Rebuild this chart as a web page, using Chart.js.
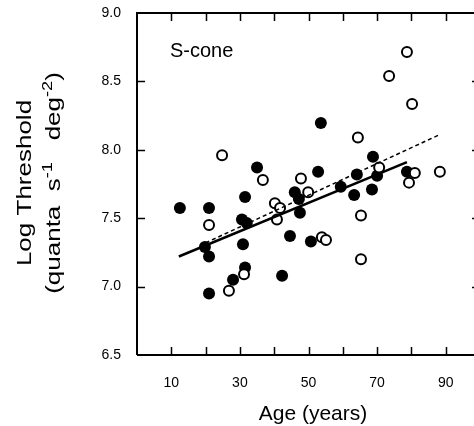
<!DOCTYPE html>
<html>
<head>
<meta charset="utf-8">
<script src="https://cdn.jsdelivr.net/npm/chart.js@4.4.0/dist/chart.umd.min.js"></script>
<style>
html, body { margin: 0; padding: 0; background: #fff; overflow: hidden; }
#wrap { width: 490px; height: 426px; }
</style>
</head>
<body>
<div id="wrap"><canvas id="chart" width="490" height="426"></canvas></div>
<script>
// Datos (edad en años, log umbral)
const filledAge = [12.5, 21, 31.5, 35, 30.6, 32, 19.8, 21, 30.9, 31.5, 28, 21, 44.6, 42.3, 46, 47.2, 47.5, 50.7, 52.8, 53.6, 59.4, 63.3, 64.1, 68.5, 68.8, 70, 78.7];
const filledThreshold = [7.575, 7.575, 7.655, 7.87, 7.49, 7.465, 7.29, 7.22, 7.31, 7.14, 7.05, 6.95, 7.37, 7.08, 7.69, 7.64, 7.54, 7.33, 7.84, 8.196, 7.73, 7.67, 7.82, 7.71, 7.95, 7.81, 7.84];

const openAge = [24.8, 21, 36.7, 31.2, 26.8, 40.2, 41.7, 40.8, 47.8, 49.9, 53.9, 55.1, 65.3, 65.3, 64.4, 70.6, 78.7, 73.5, 80.2, 81, 79.3, 88.3];
const openThreshold = [7.96, 7.45, 7.78, 7.09, 6.97, 7.61, 7.575, 7.49, 7.79, 7.69, 7.36, 7.34, 7.52, 7.20, 8.09, 7.87, 8.715, 8.54, 8.335, 7.83, 7.76, 7.84];

// Rectas de ajuste
const solidFitAge = [12.2, 78.7];
const solidFitThreshold = [7.22, 7.91];
const dashedFitAge = [20, 88];
const dashedFitThreshold = [7.32, 8.108];

// Etiquetas de los ejes
const xTickLabels = [10, 30, 50, 70, 90];
const yTickLabels = [6.5, 7.0, 7.5, 8.0, 8.5, 9.0];

const FONT = '"Liberation Sans", Arial, sans-serif';

function toPoints(xs, ys) {
    return xs.map((v, i) => ({ x: v, y: ys[i] }));
}

// Marco con marcas hacia dentro y títulos
const framePlugin = {
    id: 'frame',
    afterDraw(chart) {
        const { ctx, chartArea: a, scales: { x, y } } = chart;
        ctx.save();
        ctx.strokeStyle = '#000';
        ctx.lineWidth = 2;
        ctx.beginPath();
        ctx.moveTo(a.left, a.bottom); ctx.lineTo(a.left, a.top);
        ctx.lineTo(a.right, a.top); ctx.lineTo(a.right, a.bottom);
        ctx.lineTo(a.left, a.bottom);
        ctx.stroke();

        ctx.lineWidth = 1.5;
        ctx.beginPath();
        x.ticks.forEach(t => {
            if (t.value <= x.min || t.value >= x.max) return;
            const px = Math.round(x.getPixelForValue(t.value)) + 0.5;
            ctx.moveTo(px, a.bottom); ctx.lineTo(px, a.bottom - 8);
            ctx.moveTo(px, a.top); ctx.lineTo(px, a.top + 8);
        });
        yTickLabels.forEach(v => {
            if (v <= y.min || v >= y.max) return;
            const py = Math.round(y.getPixelForValue(v)) + 0.5;
            ctx.moveTo(a.left, py); ctx.lineTo(a.left + 8, py);
            ctx.moveTo(a.right, py); ctx.lineTo(a.right - 8, py);
        });
        ctx.stroke();

        // Texto S-cone
        ctx.fillStyle = '#000';
        ctx.font = '20px ' + FONT;
        ctx.textAlign = 'left';
        ctx.textBaseline = 'middle';
        ctx.fillText('S-cone', 170, 51);

        // Título eje X
        ctx.textAlign = 'center';
        ctx.font = '21px ' + FONT;
        ctx.fillText('Age (years)', 313, 414);

        // Título eje Y (dos líneas, rotado)
        drawRich(ctx, [{ t: 'Log Threshold' }], 25, 183, 1.3);
        drawRich(ctx, [
            { t: '(quanta  s' }, { t: '-1', sup: true },
            { t: '   deg' }, { t: '-2', sup: true }, { t: ')' }
        ], 54, 183, 1.3);
        ctx.restore();
    }
};

function drawRich(ctx, parts, cx, cy, stretch) {
    ctx.save();
    ctx.translate(cx, cy);
    ctx.rotate(-Math.PI / 2);
    ctx.scale(stretch, 1);
    ctx.textAlign = 'left';
    ctx.textBaseline = 'middle';
    let total = 0;
    parts.forEach(p => {
        ctx.font = (p.sup ? '14px ' : '20px ') + FONT;
        p.w = ctx.measureText(p.t).width;
        total += p.w;
    });
    let pos = -total / 2;
    parts.forEach(p => {
        ctx.font = (p.sup ? '14px ' : '20px ') + FONT;
        ctx.fillText(p.t, pos, p.sup ? -6 : 0);
        pos += p.w;
    });
    ctx.restore();
}

function noPadding(s) {
    s.paddingTop = 0;
    s.paddingBottom = 0;
    s.paddingLeft = 0;
    s.paddingRight = 0;
}

const ctx = document.getElementById('chart').getContext('2d');
new Chart(ctx, {
    type: 'scatter',
    data: {
        datasets: [
            {
                type: 'line',
                label: 'Ajuste sólido',
                data: toPoints(solidFitAge, solidFitThreshold),
                borderColor: '#000',
                borderWidth: 2.5,
                pointRadius: 0,
                fill: false,
                order: 0
            },
            {
                type: 'line',
                label: 'Ajuste discontinuo',
                data: toPoints(dashedFitAge, dashedFitThreshold),
                borderColor: '#000',
                borderWidth: 1.5,
                borderDash: [4, 3],
                pointRadius: 0,
                fill: false,
                order: 0
            },
            {
                label: 'Abiertos',
                data: toPoints(openAge, openThreshold),
                pointRadius: 5,
                pointBorderWidth: 2,
                borderColor: '#000',
                backgroundColor: '#fff',
                order: 1
            },
            {
                label: 'Rellenos',
                data: toPoints(filledAge, filledThreshold),
                pointRadius: 6,
                pointBorderWidth: 0,
                borderColor: '#000',
                backgroundColor: '#000',
                order: 2
            }
        ]
    },
    options: {
        responsive: false,
        animation: false,
        layout: { padding: { left: 0, top: 13, right: 10, bottom: 0 } },
        plugins: {
            legend: { display: false },
            tooltip: { enabled: false }
        },
        scales: {
            x: {
                type: 'linear',
                min: 0,
                max: 100,
                grid: { display: false, drawTicks: false },
                border: { display: false },
                ticks: {
                    stepSize: 10,
                    autoSkip: false,
                    maxRotation: 0,
                    padding: 20,
                    color: '#000',
                    font: { family: FONT, size: 14 },
                    callback: v => xTickLabels.includes(v) ? String(v) : ''
                },
                afterFit(s) { s.height = 71; noPadding(s); }
            },
            y: {
                type: 'linear',
                min: 6.5,
                max: 9.0,
                grid: { display: false, drawTicks: false },
                border: { display: false },
                ticks: {
                    stepSize: 0.5,
                    padding: 16,
                    color: '#000',
                    font: { family: FONT, size: 14 },
                    callback: v => v.toFixed(1)
                },
                afterFit(s) { s.width = 137; noPadding(s); }
            }
        }
    },
    plugins: [framePlugin]
});
</script>
</body>
</html>
